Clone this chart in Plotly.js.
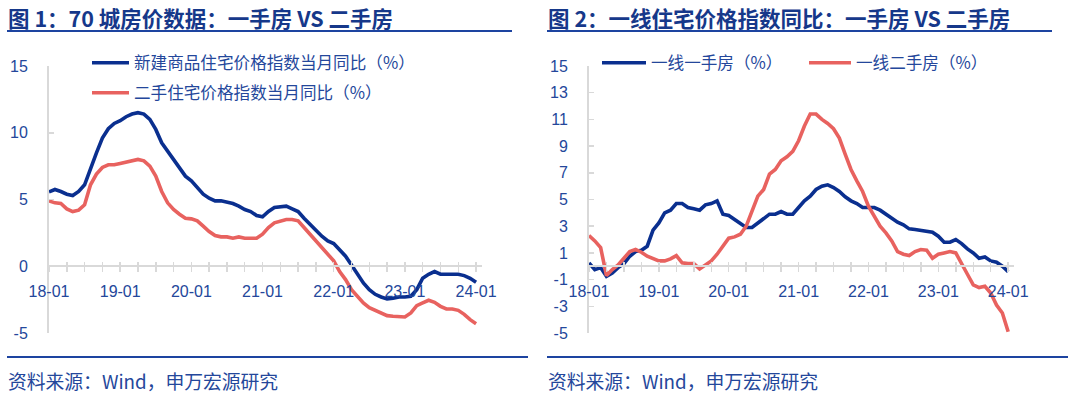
<!DOCTYPE html>
<html>
<head>
<meta charset="utf-8">
<script src="https://cdn.plot.ly/plotly-3.0.1.min.js"></script>
<style>html,body{margin:0;padding:0;background:#fff;}#chart{width:1080px;height:397px;}</style>
</head>
<body>
<div id="chart"></div>
<script>
// ---- data (monthly, 2018-01 .. 2024-01) ----
const xTickLabels = ['18-01','19-01','20-01','21-01','22-01','23-01','24-01'];
const categories = [];
for (let yy = 18; yy <= 24; yy++) for (let mm = 1; mm <= 12; mm++) {
  if (yy === 24 && mm > 1) break;
  categories.push(yy + '-' + (mm < 10 ? '0' + mm : mm));
}
// Fig 1: 70 cities
const newHome70 = [5.57,5.75,5.6,5.4,5.3,5.6,6.1,7.4,8.5,9.6,
  10.3,10.7,10.9,11.2,11.4,11.5,11.4,11.0,10.25,9.25,
  8.6,8.0,7.4,6.75,6.4,5.9,5.4,5.1,4.9,4.9,
  4.8,4.7,4.5,4.25,4.1,3.8,3.7,4.1,4.4,4.45,
  4.5,4.3,4.1,3.6,3.1,2.7,2.25,1.9,1.7,1.25,
  0.75,0.1,-0.6,-1.25,-1.75,-2.1,-2.3,-2.45,-2.4,-2.3,
  -2.3,-2.25,-1.75,-0.9,-0.6,-0.4,-0.6,-0.6,-0.6,-0.6,
  -0.7,-0.9,-1.2];
const secondHand70 = [4.9,4.75,4.7,4.3,4.1,4.2,4.6,6.1,6.9,7.4,
  7.6,7.6,7.7,7.8,7.9,8.0,7.9,7.5,6.75,5.6,
  4.75,4.25,3.9,3.6,3.55,3.4,3.0,2.6,2.3,2.2,
  2.2,2.1,2.2,2.1,2.1,2.1,2.4,2.9,3.25,3.4,
  3.5,3.5,3.4,2.9,2.4,1.9,1.4,0.9,0.4,-0.4,
  -1.0,-1.75,-2.25,-2.75,-3.1,-3.3,-3.5,-3.7,-3.75,-3.8,
  -3.8,-3.5,-2.95,-2.75,-2.55,-2.7,-3.0,-3.2,-3.2,-3.3,
  -3.6,-4.0,-4.3];
// Fig 2: tier-1 cities
const tier1New = [0.25,-0.25,-0.1,-0.75,-0.5,-0.1,0.2,0.75,1.1,1.2,
  1.5,2.7,3.25,4.0,4.2,4.7,4.7,4.4,4.3,4.2,
  4.6,4.7,4.9,3.9,3.8,3.5,3.25,2.9,2.9,3.25,
  3.6,3.9,3.9,4.1,3.9,3.9,4.4,4.9,5.25,5.75,
  6.0,6.1,5.9,5.6,5.2,4.9,4.7,4.4,4.4,4.4,
  4.2,3.9,3.55,3.3,3.1,2.8,2.75,2.7,2.6,2.55,
  2.25,1.8,1.8,2.0,1.7,1.3,1.0,0.6,0.7,0.4,
  0.3,0.0,-0.4];
const tier1Second = [2.3,1.9,1.4,-0.7,-0.25,0.1,0.6,1.1,1.25,1.05,
  0.75,0.6,0.4,0.4,0.55,0.8,0.25,0.2,0.2,-0.2,
  0.1,0.4,0.9,1.5,2.1,2.2,2.4,3.0,4.1,5.25,
  5.75,6.9,7.25,7.9,8.2,8.6,9.4,10.5,11.4,11.4,
  11.0,10.7,10.3,9.6,8.4,7.25,6.4,5.6,4.5,3.75,
  3.0,2.5,1.9,1.1,0.9,0.8,1.1,1.25,1.2,0.6,
  0.9,1.0,1.1,1.0,0.25,-0.6,-1.4,-1.6,-1.5,-2.0,
  -2.9,-3.5,-4.9];
const yTicks1 = [-5, 0, 5, 10, 15];
const yTicks2 = [-5, -3, -1, 1, 3, 5, 7, 9, 11, 13, 15];
const names1 = ['新建商品住宅价格指数当月同比（%）', '二手住宅价格指数当月同比（%）'];
const names2 = ['一线一手房（%）', '一线二手房（%）'];
const titles = ['图 1：70 城房价数据：一手房 VS 二手房', '图 2：一线住宅价格指数同比：一手房 VS 二手房'];
const sourceText = '资料来源：Wind，申万宏源研究';

// ---- layout helpers ----
const W = 1080, H = 397;
const px = v => v / W, py = v => 1 - v / H;
const BLUE = '#0a2f8f', RED = '#e8625f', TXT = '#24479b', AX = '#d9d9d9', RULE = '#1d44a0';
const CJK = 'Noto Sans CJK SC, sans-serif';
const NUM = 'Liberation Sans, Arial, sans-serif';
const xIdx = categories.map((c, i) => i);
const qVals = xIdx.filter(i => i % 3 === 0);
const qText = qVals.map(i => xTickLabels.includes(categories[i]) ? categories[i] : '');
const yDom = [py(333), py(66)];
const zeroPos = yDom[0] + (0 - (-5)) / 20 * (yDom[1] - yDom[0]);

function xAxis(dom, extra) {
  return Object.assign({
    domain: dom, range: [0, 73], anchor: 'free', position: zeroPos,
    tickmode: 'array', tickvals: qVals, ticktext: qText,
    ticks: 'outside', ticklen: 5, tickwidth: 1.5, tickcolor: AX,
    showline: true, linecolor: AX, linewidth: 2,
    showgrid: false, zeroline: false, fixedrange: true,
    tickfont: {family: NUM, size: 16, color: TXT}, ticklabelstandoff: 6
  }, extra || {});
}
function xOver(base, dom) {
  return {overlaying: base, domain: dom, range: [0, 73], anchor: 'free', position: zeroPos,
    tickmode: 'array', tickvals: qVals, ticks: 'inside', ticklen: 4, tickwidth: 1.5, tickcolor: AX,
    showticklabels: false, showline: false, showgrid: false, zeroline: false};
}
function yAxis(anchor, ticks) {
  return {domain: yDom, range: [-5, 15], anchor: anchor,
    tickmode: 'array', tickvals: ticks, ticktext: ticks.map(String),
    ticks: 'inside', ticklen: 5, tickwidth: 1.5, tickcolor: AX,
    showline: true, linecolor: AX, linewidth: 2, showgrid: false, zeroline: false,
    tickfont: {family: NUM, size: 16, color: TXT}, ticklabelstandoff: 16};
}
function legendAt(xp, yp, iw) {
  return {x: px(xp), y: py(yp), xanchor: 'left', yanchor: 'middle', orientation: 'h',
    bgcolor: 'rgba(0,0,0,0)', borderwidth: 0, itemwidth: iw,
    font: {family: CJK, size: 16.6, color: TXT}, itemclick: false, itemdoubleclick: false};
}
function line(x, y, name, color, xa, ya, lg) {
  return {type: 'scatter', mode: 'lines', x: x, y: y, name: name, xaxis: xa, yaxis: ya,
    legend: lg, line: {color: color, width: 3.6}, hoverinfo: 'skip'};
}

const data = [
  line(xIdx, newHome70, names1[0], BLUE, 'x', 'y', 'legend'),
  line(xIdx, secondHand70, names1[1], RED, 'x', 'y', 'legend2'),
  line(xIdx, tier1New, names2[0], BLUE, 'x2', 'y2', 'legend3'),
  line(xIdx, tier1Second, names2[1], RED, 'x2', 'y2', 'legend4'),
  {type: 'scatter', x: [null], y: [null], xaxis: 'x3', yaxis: 'y', showlegend: false, hoverinfo: 'skip'},
  {type: 'scatter', x: [null], y: [null], xaxis: 'x4', yaxis: 'y2', showlegend: false, hoverinfo: 'skip'}
];

const dom1 = [px(49), px(482)], dom2 = [px(589), px(1014)];
const layout = {
  width: W, height: H, margin: {l: 0, r: 0, t: 0, b: 0},
  paper_bgcolor: '#fff', plot_bgcolor: 'rgba(0,0,0,0)',
  xaxis: xAxis(dom1), xaxis2: xAxis(dom2),
  xaxis3: xOver('x', dom1), xaxis4: xOver('x2', dom2),
  yaxis: yAxis('x', yTicks1), yaxis2: yAxis('x2', yTicks2),
  legend: legendAt(87, 63, 37), legend2: legendAt(87, 93, 37),
  legend3: legendAt(597, 63, 44), legend4: legendAt(804, 63, 42),
  annotations: [
    {text: '<b>' + titles[0] + '</b>', xref: 'paper', yref: 'paper', x: px(6), y: py(17), xanchor: 'left', yanchor: 'middle', showarrow: false, font: {family: CJK, size: 21.5, color: '#16388a'}},
    {text: '<b>' + titles[1] + '</b>', xref: 'paper', yref: 'paper', x: px(546), y: py(17), xanchor: 'left', yanchor: 'middle', showarrow: false, font: {family: CJK, size: 21.5, color: '#16388a'}},
    {text: sourceText, xref: 'paper', yref: 'paper', x: px(6), y: py(380), xanchor: 'left', yanchor: 'middle', showarrow: false, font: {family: CJK, size: 18.8, color: TXT}},
    {text: sourceText, xref: 'paper', yref: 'paper', x: px(546), y: py(380), xanchor: 'left', yanchor: 'middle', showarrow: false, font: {family: CJK, size: 18.8, color: TXT}}
  ],
  shapes: [
    {type: 'line', xref: 'paper', yref: 'paper', x0: px(7), x1: px(512), y0: py(31), y1: py(31), line: {color: RULE, width: 2}},
    {type: 'line', xref: 'paper', yref: 'paper', x0: px(547), x1: px(1052), y0: py(31), y1: py(31), line: {color: RULE, width: 2}},
    {type: 'line', xref: 'paper', yref: 'paper', x0: px(7), x1: px(528), y0: py(357), y1: py(357), line: {color: RULE, width: 2}},
    {type: 'line', xref: 'paper', yref: 'paper', x0: px(547), x1: px(1068), y0: py(357), y1: py(357), line: {color: RULE, width: 2}}
  ]
};
Plotly.newPlot('chart', data, layout, {staticPlot: true, displayModeBar: false});
</script>
</body>
</html>
